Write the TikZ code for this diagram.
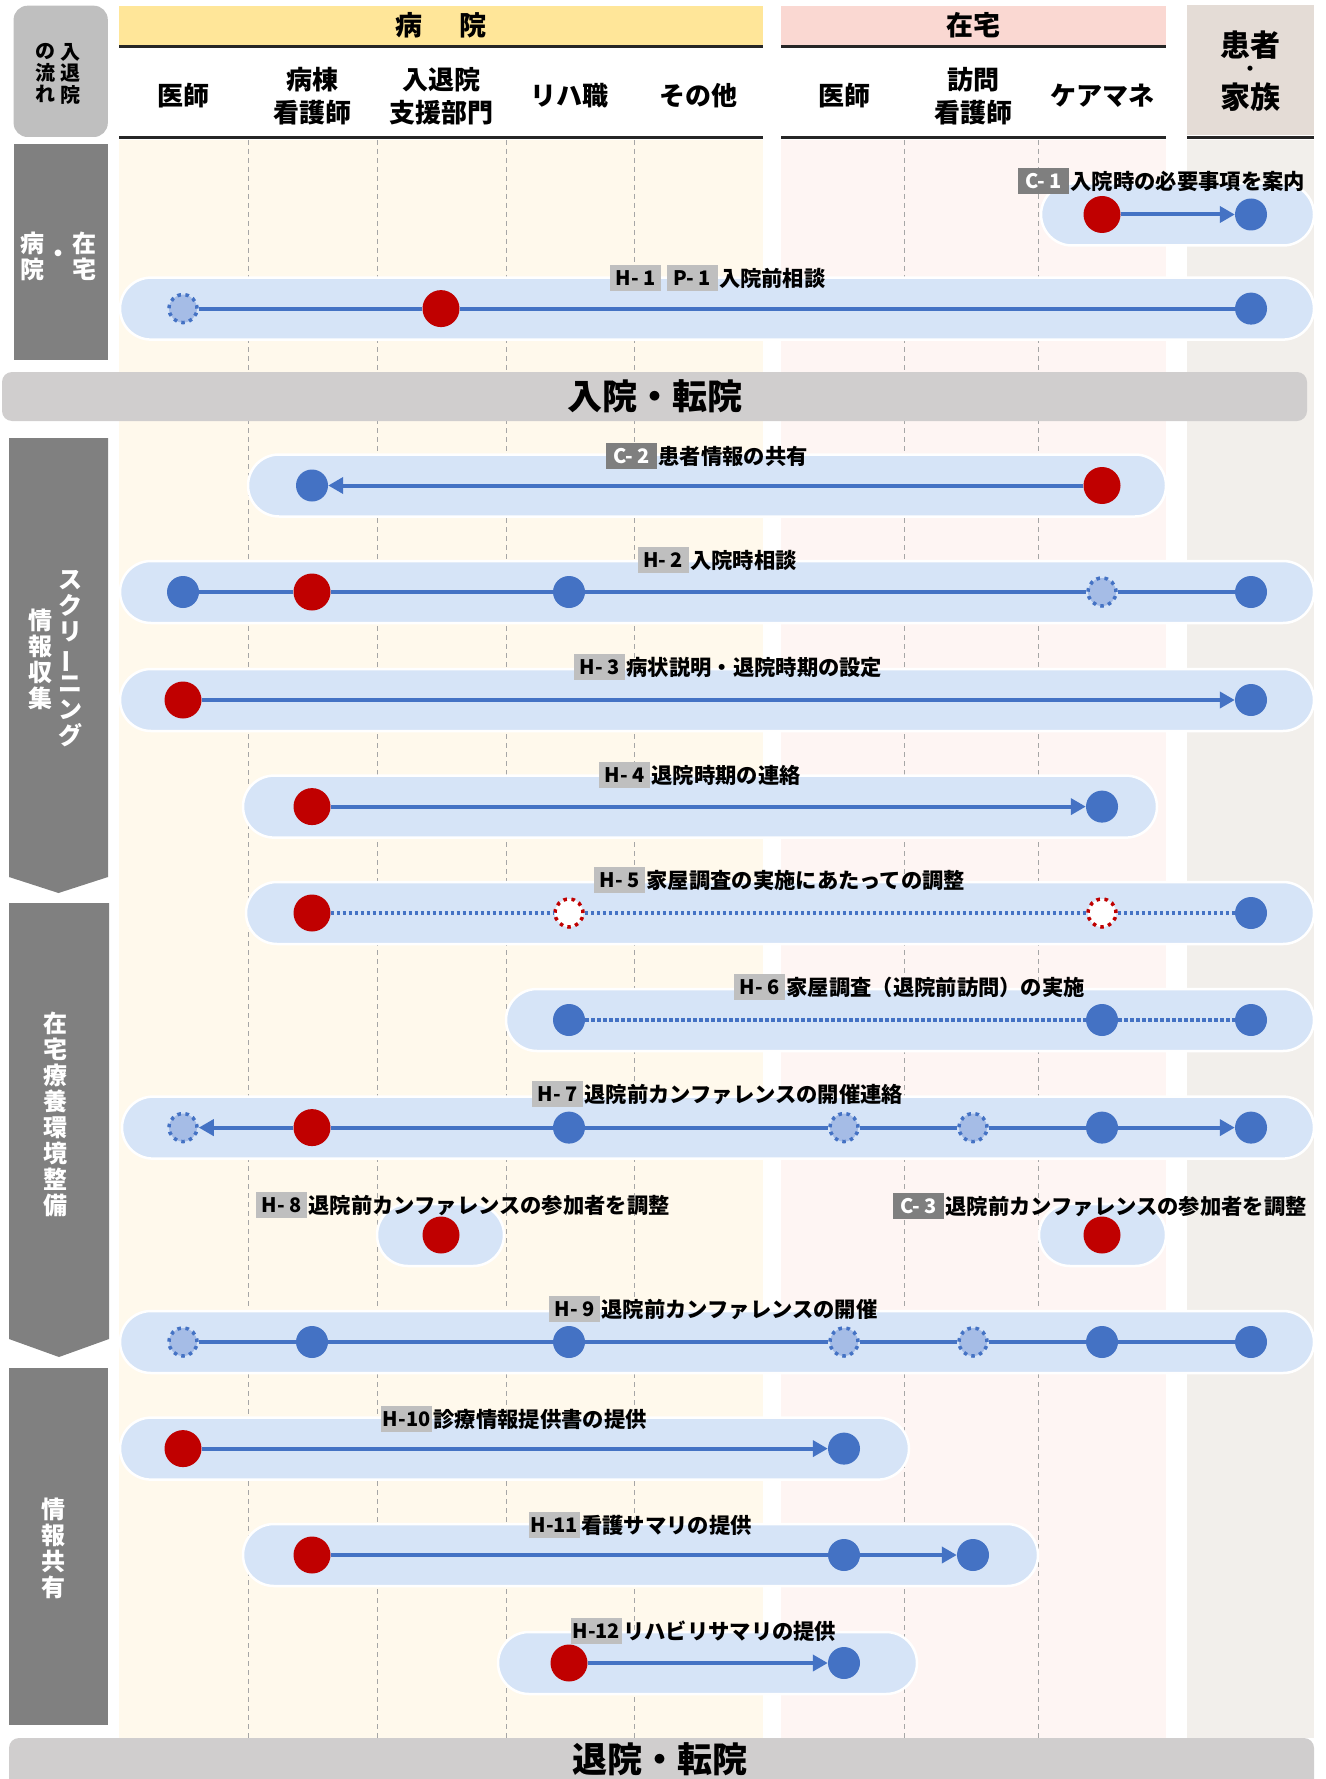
\documentclass[tikz,border=0pt]{standalone}
\usepackage{fontspec}
\setmainfont{Noto Sans CJK JP}
\usetikzlibrary{positioning, arrows.meta}

\definecolor{hospbg}{HTML}{FFF9EC}
\definecolor{homebg}{HTML}{FEF5F3}
\definecolor{famibg}{HTML}{F2EFEB}
\definecolor{hosphead}{HTML}{FFE699}
\definecolor{homehead}{HTML}{FAD8D2}
\definecolor{famihead}{HTML}{E4DCD6}
\definecolor{bandgray}{HTML}{D0CECE}
\definecolor{sidegray}{HTML}{808080}
\definecolor{sidelight}{HTML}{BFBFBF}
\definecolor{lanefill}{HTML}{D6E4F7}
\definecolor{dotred}{HTML}{C00000}
\definecolor{dotblue}{HTML}{4472C4}
\definecolor{dotpale}{HTML}{A5BCE6}
\definecolor{taglight}{HTML}{BFBFBF}
\definecolor{tagdark}{HTML}{7F7F7F}

\newcommand\lanefont{\fontsize{21.3pt}{24pt}\selectfont\bfseries}
\newcommand\codefont{\fontsize{20pt}{24pt}\selectfont\bfseries}
\newcommand\colfont{\fontsize{26pt}{33pt}\selectfont\bfseries}
\newcommand\sidefont{\fontsize{24pt}{26pt}\selectfont\bfseries}
\newcommand\bandfont{\fontsize{35pt}{40pt}\selectfont\bfseries}

\def\xdoc{183}
\def\xnurse{312}
\def\xsupp{441}
\def\xrehab{569}
\def\xother{698}
\def\xhdoc{844}
\def\xvisit{973}
\def\xcare{1102}
\def\xfam{1251}

\tikzset{
  lane/.style={fill=lanefill, draw=white, line width=2.5pt, rounded corners=31pt},
  reddot/.style={circle, fill=dotred, minimum size=37pt, inner sep=0pt},
  bluedot/.style={circle, fill=dotblue, minimum size=32pt, inner sep=0pt},
  paledot/.style={circle, fill=dotpale, draw=dotblue, line width=3.5pt, dash pattern=on 3.5pt off 4.5pt, minimum size=28pt, inner sep=0pt},
  hollowdot/.style={circle, fill=white, draw=dotred, line width=3.5pt, dash pattern=on 3.5pt off 4.5pt, minimum size=28pt, inner sep=0pt},
  link/.style={draw=dotblue, line width=4pt},
  dotlink/.style={link, dash pattern=on 3.5pt off 2.5pt},
  tip/.style={-{Triangle[length=15pt,width=16pt]}},
  htag/.style={fill=taglight, text=black, minimum width=51pt, minimum height=26pt, inner sep=1pt, font=\codefont},
  ctag/.style={htag, fill=tagdark, text=white},
  desc/.style={inner sep=1pt, font=\lanefont},
  colhead/.style={font=\colfont, align=center},
  famhead/.style={font=\fontsize{30pt}{30pt}\selectfont\bfseries, inner sep=0pt},
  sidetext/.style={text=white, font=\sidefont, align=center},
  gridline/.style={draw=black!35, line width=0.8pt, dash pattern=on 5pt off 4pt},
  headline/.style={draw=black!85, line width=3pt}
}

\begin{document}
\begin{tikzpicture}[x=1pt, y=-1pt]
\useasboundingbox (0,0) rectangle (1325,1779);

% column areas
\fill[hospbg] (119,140) rectangle (763,1738);
\fill[homebg] (781,140) rectangle (1166,1738);
\fill[famibg] (1187,140) rectangle (1314,1738);
\foreach \gx in {248,377,506,634,904,1038}
  \draw[gridline] (\gx,140) -- (\gx,1738);

% headers
\fill[hosphead] (119,5.7) rectangle (763,45);
\fill[homehead] (781,5.7) rectangle (1166,45);
\fill[famihead] (1187,5) rectangle (1314,135);
\draw[headline] (119,46.5) -- (763,46.5);
\draw[headline] (781,46.5) -- (1166,46.5);
\draw[headline] (119,138) -- (763,138);
\draw[headline] (781,138) -- (1166,138);
\draw[headline] (1187,138) -- (1314,138);
\node[font=\fontsize{27pt}{30pt}\selectfont\bfseries] (hosp) at (441,25) {病\hspace{37pt}院};
\node[font=\fontsize{27pt}{30pt}\selectfont\bfseries] (home) at (973,25) {在宅};
\node[famhead] (famiA) at (1250,45) {患者};
\node[famhead, font=\fontsize{18pt}{18pt}\selectfont\bfseries] (famiB) at (1250,70.5) {・};
\node[famhead] (famiC) at (1250,97.6) {家族};
\node[colhead] (hdoc) at (\xdoc,96) {医師};
\node[colhead] (hnurse) at (\xnurse,96) {病棟\\看護師};
\node[colhead] (hsupp) at (\xsupp,96) {入退院\\支援部門};
\node[colhead] (hrehab) at (\xrehab,96) {リハ職};
\node[colhead] (hother) at (\xother,96) {その他};
\node[colhead] (hhdoc) at (\xhdoc,96) {医師};
\node[colhead] (hvisit) at (\xvisit,96) {訪問\\看護師};
\node[colhead] (hcare) at (\xcare,96) {ケアマネ};

% side labels
\fill[sidelight, rounded corners=14pt] (13.6,5.7) rectangle (107.8,137);
\node[font=\fontsize{20pt}{21.5pt}\selectfont\bfseries, align=center] (flowA) at (70,73.5) {入\\退\\院};
\node[font=\fontsize{20pt}{21.5pt}\selectfont\bfseries, align=center] (flowB) at (45,73.5) {の\\流\\れ};
\fill[sidegray] (13.6,144) rectangle (107.8,360);
\node[sidetext] (sideA) at (32,256) {病\\院};
\node[sidetext] (sideB) at (58,256) {・};
\node[sidetext] (sideC) at (84,256) {在\\宅};
\fill[sidegray] (9,438) -- (108,438) -- (108,877) -- (58.5,893) -- (9,877) -- cycle;
\node[sidetext] (scrA) at (70,659) {ス\\ク\\リ\\\rotatebox[origin=c]{90}{ー}\\ニ\\ン\\グ};
\node[sidetext] (scrB) at (40,659) {情\\報\\収\\集};
\fill[sidegray] (9,903) -- (109,903) -- (109,1339) -- (59,1357) -- (9,1339) -- cycle;
\node[sidetext] (envA) at (55.6,1114.5) {在\\宅\\療\\養\\環\\境\\整\\備};
\fill[sidegray] (9,1368) rectangle (108,1725);
\node[sidetext] (infoA) at (53,1548) {情\\報\\共\\有};

% bands
\fill[bandgray, rounded corners=10pt] (2,372) rectangle (1307,421);
\node[font=\bandfont] (admit) at (654.6,396) {入院・転院};
\fill[bandgray] (9,1779) [rounded corners=10pt] -- (9,1738) -- (1314,1738) [sharp corners] -- (1314,1779) -- cycle;
\node[font=\bandfont] (leave) at (660,1759) {退院・転院};

% C-1
\draw[lane] (1041,183.5) rectangle (1314,245.5);
\node[reddot] (c1a) at (\xcare,214.5) {};
\node[bluedot] (c1b) at (\xfam,214.5) {};
\draw[link,tip] (c1a) -- (c1b);
\node[ctag, anchor=west] (c1tag) at (1018,181) {C- 1};
\node[desc, right=0pt of c1tag] (c1txt) {入院時の必要事項を案内};

% H-1
\draw[lane] (120,277.6) rectangle (1314,339.6);
\node[paledot] (h1a) at (\xdoc,308.6) {};
\node[reddot] (h1b) at (\xsupp,308.6) {};
\node[bluedot] (h1c) at (\xfam,308.6) {};
\draw[link] (h1a) -- (h1b);
\draw[link] (h1b) -- (h1c);
\node[htag, anchor=west] (h1tag) at (610,278) {H- 1};
\node[htag, right=5pt of h1tag] (p1tag) {P- 1};
\node[desc, right=0pt of p1tag] (h1txt) {入院前相談};

% C-2
\draw[lane] (248,454.5) rectangle (1166,516.5);
\node[bluedot] (c2a) at (\xnurse,485.5) {};
\node[reddot] (c2b) at (\xcare,485.5) {};
\draw[link,tip] (c2b) -- (c2a);
\node[ctag, anchor=west] (c2tag) at (606,456) {C- 2};
\node[desc, right=0pt of c2tag] (c2txt) {患者情報の共有};

% H-2
\draw[lane] (120,561) rectangle (1314,623);
\node[bluedot] (h2a) at (\xdoc,592) {};
\node[reddot] (h2b) at (\xnurse,592) {};
\node[bluedot] (h2c) at (\xrehab,592) {};
\node[paledot] (h2d) at (\xcare,592) {};
\node[bluedot] (h2e) at (\xfam,592) {};
\draw[link] (h2a) -- (h2b);
\draw[link] (h2b) -- (h2c);
\draw[link] (h2c) -- (h2d);
\draw[link] (h2d) -- (h2e);
\node[htag, anchor=west] (h2tag) at (637.5,560) {H- 2};
\node[desc, right=0pt of h2tag] (h2txt) {入院時相談};

% H-3
\draw[lane] (120,669) rectangle (1314,731);
\node[reddot] (h3a) at (\xdoc,700) {};
\node[bluedot] (h3b) at (\xfam,700) {};
\draw[link,tip] (h3a) -- (h3b);
\node[htag, anchor=west] (h3tag) at (574,667) {H- 3};
\node[desc, right=0pt of h3tag] (h3txt) {病状説明・退院時期の設定};

% H-4
\draw[lane] (243,775.6) rectangle (1157,837.6);
\node[reddot] (h4a) at (\xnurse,806.6) {};
\node[bluedot] (h4b) at (\xcare,806.6) {};
\draw[link,tip] (h4a) -- (h4b);
\node[htag, anchor=west] (h4tag) at (599,775) {H- 4};
\node[desc, right=0pt of h4tag] (h4txt) {退院時期の連絡};

% H-5
\draw[lane] (246,882) rectangle (1314,944);
\node[reddot] (h5a) at (\xnurse,913) {};
\node[hollowdot] (h5b) at (\xrehab,913) {};
\node[hollowdot] (h5c) at (\xcare,913) {};
\node[bluedot] (h5d) at (\xfam,913) {};
\draw[dotlink] (h5a) -- (h5b);
\draw[dotlink] (h5b) -- (h5c);
\draw[dotlink] (h5c) -- (h5d);
\node[htag, anchor=west] (h5tag) at (594,880) {H- 5};
\node[desc, right=0pt of h5tag] (h5txt) {家屋調査の実施にあたっての調整};

% H-6
\draw[lane] (506,989) rectangle (1314,1051);
\node[bluedot] (h6a) at (\xrehab,1020) {};
\node[bluedot] (h6b) at (\xcare,1020) {};
\node[bluedot] (h6c) at (\xfam,1020) {};
\draw[dotlink] (h6a) -- (h6b);
\draw[dotlink] (h6b) -- (h6c);
\node[htag, anchor=west] (h6tag) at (734,987) {H- 6};
\node[desc, right=0pt of h6tag] (h6txt) {家屋調査（退院前訪問）の実施};

% H-7
\draw[lane] (122,1096.6) rectangle (1314,1158.6);
\node[paledot] (h7a) at (\xdoc,1127.6) {};
\node[reddot] (h7b) at (\xnurse,1127.6) {};
\node[bluedot] (h7c) at (\xrehab,1127.6) {};
\node[paledot] (h7d) at (\xhdoc,1127.6) {};
\node[paledot] (h7e) at (\xvisit,1127.6) {};
\node[bluedot] (h7f) at (\xcare,1127.6) {};
\node[bluedot] (h7g) at (\xfam,1127.6) {};
\draw[link,tip] (h7b) -- (h7a);
\draw[link] (h7b) -- (h7c);
\draw[link] (h7c) -- (h7d);
\draw[link] (h7d) -- (h7e);
\draw[link] (h7e) -- (h7f);
\draw[link,tip] (h7f) -- (h7g);
\node[htag, anchor=west] (h7tag) at (532,1094) {H- 7};
\node[desc, right=0pt of h7tag] (h7txt) {退院前カンファレンスの開催連絡};

% H-8, C-3
\draw[lane] (377,1204) rectangle (504,1266);
\node[reddot] (h8a) at (\xsupp,1235) {};
\node[htag, anchor=west] (h8tag) at (256,1205) {H- 8};
\node[desc, right=0pt of h8tag] (h8txt) {退院前カンファレンスの参加者を調整};
\draw[lane] (1039,1204) rectangle (1166,1266);
\node[reddot] (c3a) at (\xcare,1235) {};
\node[ctag, anchor=west] (c3tag) at (893,1206) {C- 3};
\node[desc, right=0pt of c3tag] (c3txt) {退院前カンファレンスの参加者を調整};

% H-9
\draw[lane] (120,1311) rectangle (1314,1373);
\node[paledot] (h9a) at (\xdoc,1342) {};
\node[bluedot] (h9b) at (\xnurse,1342) {};
\node[bluedot] (h9c) at (\xrehab,1342) {};
\node[paledot] (h9d) at (\xhdoc,1342) {};
\node[paledot] (h9e) at (\xvisit,1342) {};
\node[bluedot] (h9f) at (\xcare,1342) {};
\node[bluedot] (h9g) at (\xfam,1342) {};
\draw[link] (h9a) -- (h9b);
\draw[link] (h9b) -- (h9c);
\draw[link] (h9c) -- (h9d);
\draw[link] (h9d) -- (h9e);
\draw[link] (h9e) -- (h9f);
\draw[link] (h9f) -- (h9g);
\node[htag, anchor=west] (h9tag) at (549,1309) {H- 9};
\node[desc, right=0pt of h9tag] (h9txt) {退院前カンファレンスの開催};

% H-10
\draw[lane] (120,1417.6) rectangle (909,1479.6);
\node[reddot] (h10a) at (\xdoc,1448.6) {};
\node[bluedot] (h10b) at (\xhdoc,1448.6) {};
\draw[link,tip] (h10a) -- (h10b);
\node[htag, anchor=west] (h10tag) at (381,1419) {H-10};
\node[desc, right=0pt of h10tag] (h10txt) {診療情報提供書の提供};

% H-11
\draw[lane] (243,1524) rectangle (1038,1586);
\node[reddot] (h11a) at (\xnurse,1555) {};
\node[bluedot] (h11b) at (\xhdoc,1555) {};
\node[bluedot] (h11c) at (\xvisit,1555) {};
\draw[link] (h11a) -- (h11b);
\draw[link,tip] (h11b) -- (h11c);
\node[htag, anchor=west] (h11tag) at (528.6,1525) {H-11};
\node[desc, right=0pt of h11tag] (h11txt) {看護サマリの提供};

% H-12
\draw[lane] (498,1632) rectangle (917,1694);
\node[reddot] (h12a) at (\xrehab,1663) {};
\node[bluedot] (h12b) at (\xhdoc,1663) {};
\draw[link,tip] (h12a) -- (h12b);
\node[htag, anchor=west] (h12tag) at (570.6,1631) {H-12};
\node[desc, right=0pt of h12tag] (h12txt) {リハビリサマリの提供};
\end{tikzpicture}
\end{document}
